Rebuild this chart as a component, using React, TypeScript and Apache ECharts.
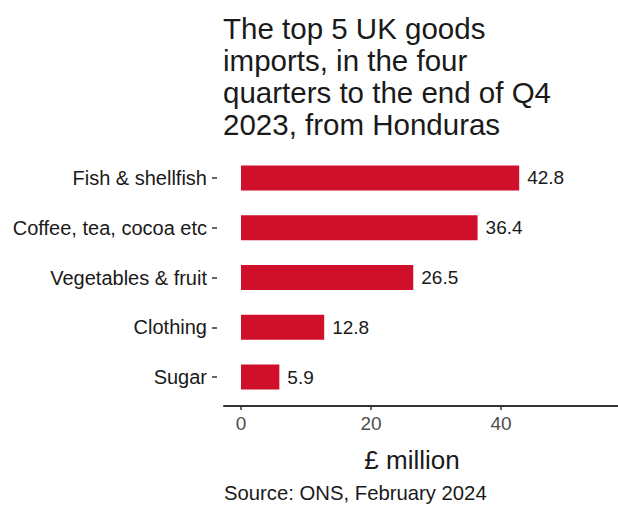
import React, { useEffect, useRef } from "react";
import * as echarts from "echarts";

const categories = ["Fish & shellfish", "Coffee, tea, cocoa etc", "Vegetables & fruit", "Clothing", "Sugar"];
const values = [42.8, 36.4, 26.5, 12.8, 5.9];
const xTicks = [0, 20, 40];
const titleLines = ["The top 5 UK goods", "imports, in the four", "quarters to the end of Q4", "2023, from Honduras"];
const axisName = "£ million";
const source = "Source: ONS, February 2024";

const FONT = "Liberation Sans, Arial, sans-serif";

export default function App() {
  const ref = useRef<HTMLDivElement>(null);
  useEffect(() => {
    document.body.style.margin = "0";
    const chart = echarts.init(ref.current!, null, { renderer: "svg" });
    chart.setOption({
      animation: false,
      backgroundColor: "#ffffff",
      textStyle: { fontFamily: FONT },
      title: {
        text: titleLines.join("\n"),
        left: 218,
        top: 7,
        textStyle: { fontSize: 29.5, fontWeight: "normal", color: "#1a1a1a", lineHeight: 32, fontFamily: FONT },
      },
      grid: { left: 224, right: 0, top: 153, height: 249, containLabel: false },
      xAxis: {
        type: "value",
        min: -2.615,
        max: 58,
        offset: 4,
        axisLine: { show: true, lineStyle: { color: "#333333", width: 2 } },
        axisTick: { show: true, customValues: xTicks, length: 4, lineStyle: { color: "#333333", width: 1.5 } },
        axisLabel: { customValues: xTicks, fontSize: 19, color: "#4d4d4d", margin: 8, fontFamily: FONT },
        splitLine: { show: false },
      },
      yAxis: {
        type: "category",
        data: categories,
        inverse: true,
        offset: 7,
        axisLine: { show: false, onZero: false },
        axisTick: { show: true, length: 5, alignWithLabel: true, lineStyle: { color: "#333333", width: 1.5 } },
        axisLabel: { fontSize: 20, color: "#1a1a1a", margin: 10, fontFamily: FONT },
        splitLine: { show: false },
      },
      series: [
        {
          type: "bar",
          data: values,
          barWidth: 25,
          itemStyle: { color: "#d0102a" },
          label: { show: true, position: "right", distance: 8, fontSize: 19, color: "#1a1a1a", fontFamily: FONT },
        },
      ],
      graphic: [
        {
          type: "text",
          x: 412,
          y: 447,
          style: { text: axisName, fontSize: 26, fill: "#1a1a1a", fontFamily: FONT, textAlign: "center" },
        },
        {
          type: "text",
          x: 224,
          y: 483,
          style: { text: source, fontSize: 20.3, fill: "#1a1a1a", fontFamily: FONT },
        },
      ],
    });
    return () => chart.dispose();
  }, []);
  return <div ref={ref} style={{ width: 618, height: 506 }} />;
}
